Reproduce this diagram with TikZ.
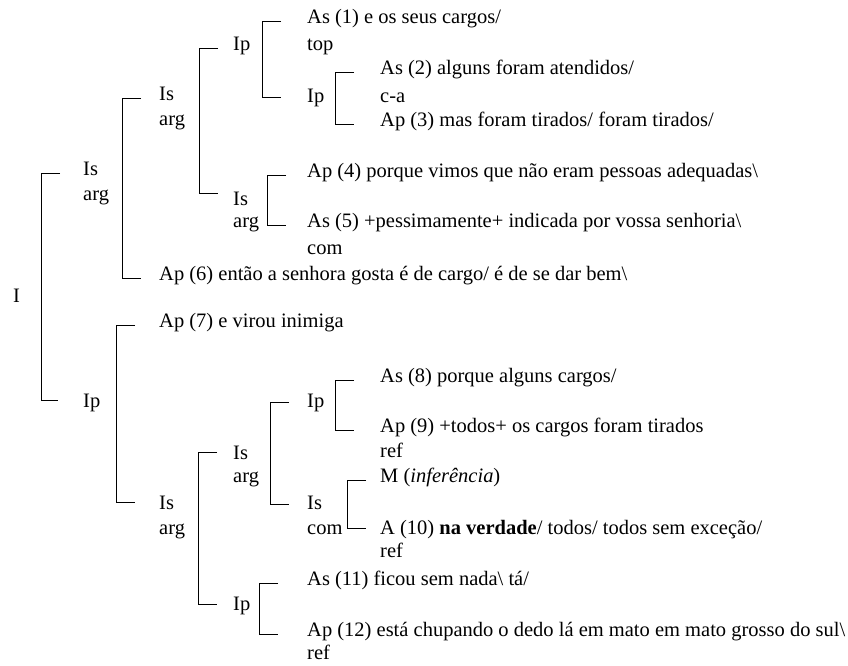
\documentclass[tikz,border=0pt]{standalone}
\usepackage{fontspec}
\setmainfont{Liberation Serif}
\usepackage{tikz}
\usetikzlibrary{positioning}

\tikzset{
  lbl/.style={anchor=mid west,inner sep=0pt,font=\fontsize{20.5}{24}\selectfont},
  brk/.style={draw=black,line width=0.9pt}
}

\begin{document}
\begin{tikzpicture}[x=1pt,y=-1pt]
  \useasboundingbox (0,0) rectangle (848,666);
  % labels of the tree
  \node[lbl] (i) at (13,300) {I};
  \node[lbl] (is1) at (83,173) {Is};
  \node[lbl] (is1r) at (83,198) {arg};
  \node[lbl] (ip1) at (83,405) {Ip};
  \node[lbl] (is2) at (159,98) {Is};
  \node[lbl] (is2r) at (159,123) {arg};
  \node[lbl] (ap6) at (159,278) {Ap (6) então a senhora gosta é de cargo/ é de se dar bem\textbackslash};
  \node[lbl] (ip3) at (233,48) {Ip};
  \node[lbl] (is3) at (233,203) {Is};
  \node[lbl] (is3r) at (233,225) {arg};
  \node[lbl] (as1) at (307,21) {As (1) e os seus cargos/};
  \node[lbl] (as1r) at (307,48) {top};
  \node[lbl] (ip4) at (307,100) {Ip};
  \node[lbl] (as2) at (380,72) {As (2) alguns foram atendidos/};
  \node[lbl] (as2r) at (380,100) {c-a};
  \node[lbl] (ap3) at (380,124) {Ap (3) mas foram tirados/ foram tirados/};
  \node[lbl] (ap4) at (307,175) {Ap (4) porque vimos que não eram pessoas adequadas\textbackslash};
  \node[lbl] (as5) at (307,225) {As (5) +pessimamente+ indicada por vossa senhoria\textbackslash};
  \node[lbl] (as5r) at (307,252) {com};
  % lower half
  \node[lbl] (ap7) at (159,325) {Ap (7) e virou inimiga};
  \node[lbl] (is2b) at (159,507) {Is};
  \node[lbl] (is2br) at (159,532) {arg};
  \node[lbl] (is3b) at (233,457) {Is};
  \node[lbl] (is3br) at (233,480) {arg};
  \node[lbl] (ip3b) at (233,608) {Ip};
  \node[lbl] (ip4b) at (307,405) {Ip};
  \node[lbl] (is4b) at (307,507) {Is};
  \node[lbl] (is4br) at (307,532) {com};
  \node[lbl] (as8) at (380,380) {As (8) porque alguns cargos/};
  \node[lbl] (ap9) at (380,430) {Ap (9) +todos+ os cargos foram tirados};
  \node[lbl] (ap9r) at (380,455) {ref};
  \node[lbl] (m) at (380,480) {M (\textit{inferência})};
  \node[lbl] (a10) at (380,532) {A (10) \textbf{na verdade}/ todos/ todos sem exceção/};
  \node[lbl] (a10r) at (380,555) {ref};
  \node[lbl] (as11) at (307,583) {As (11) ficou sem nada\textbackslash{} tá/};
  \node[lbl] (ap12) at (307,634) {Ap (12) está chupando o dedo lá em mato em mato grosso do sul\textbackslash};
  \node[lbl] (ap12r) at (307,657) {ref};
  % brackets
  \draw[brk] ([xshift=-23]is1.mid west) -- ++(-19,0) |- ([xshift=-25,yshift=5]ip1.mid west);
  \draw[brk] ([xshift=-18]is2.mid west) -- ++(-19,0) |- ([xshift=-18]ap6.mid west);
  \draw[brk] ([xshift=-15]ip3.mid west) -- ++(-19,0) |- ([xshift=-15,yshift=10]is3.mid west);
  \draw[brk] ([xshift=-26]as1.mid west) -- ++(-19,0) |- ([xshift=-26,yshift=3]ip4.mid west);
  \draw[brk] ([xshift=-26]as2.mid west) -- ++(-19,0) |- ([xshift=-26]ap3.mid west);
  \draw[brk] ([xshift=-21]ap4.mid west) -- ++(-19,0) |- ([xshift=-21]as5.mid west);
  \draw[brk] ([xshift=-24]ap7.mid west) -- ++(-19,0) |- ([xshift=-24,yshift=5]is2b.mid west);
  \draw[brk] ([xshift=-16,yshift=5]is3b.mid west) -- ++(-19,0) |- ([xshift=-16,yshift=4]ip3b.mid west);
  \draw[brk] ([xshift=-18,yshift=3]ip4b.mid west) -- ++(-19,0) |- ([xshift=-18,yshift=3]is4b.mid west);
  \draw[brk] ([xshift=-26]as8.mid west) -- ++(-19,0) |- ([xshift=-26]ap9.mid west);
  \draw[brk] ([xshift=-14]m.mid west) -- ++(-19,0) |- ([xshift=-14,yshift=4]a10.mid west);
  \draw[brk] ([xshift=-29]as11.mid west) -- ++(-19,0) |- ([xshift=-29]ap12.mid west);
\end{tikzpicture}
\end{document}
